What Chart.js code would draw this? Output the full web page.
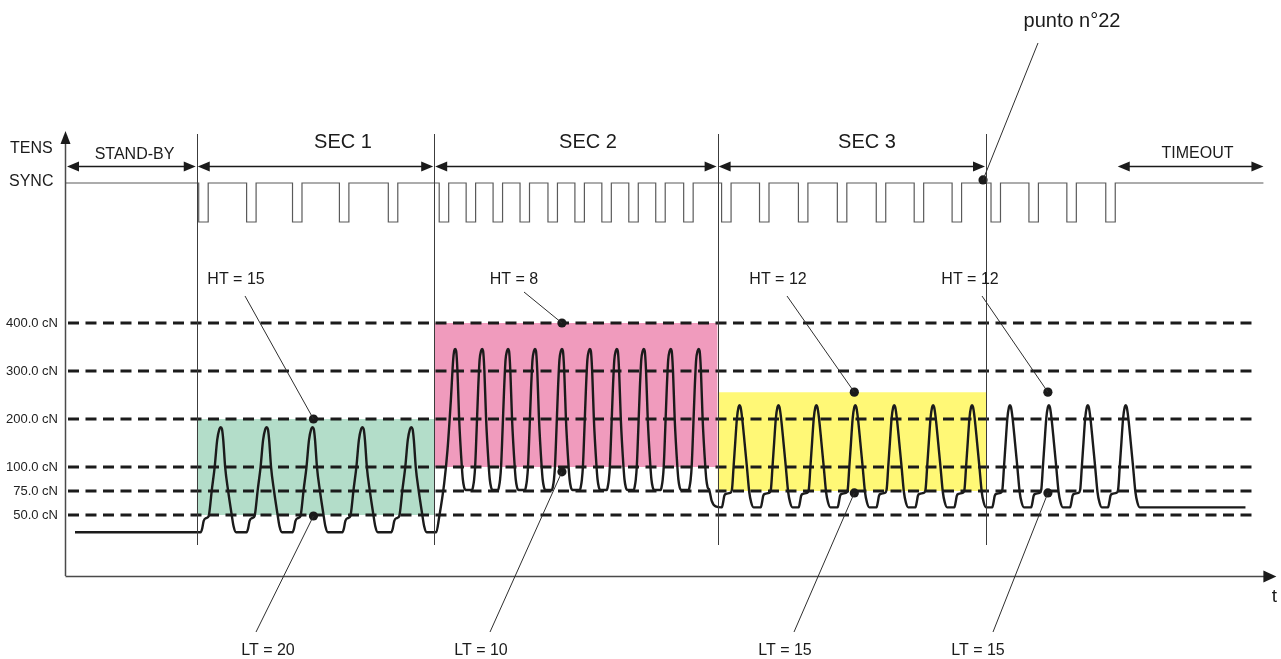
<!DOCTYPE html>
<html>
<head>
<meta charset="utf-8">
<script src="https://cdn.jsdelivr.net/npm/chart.js@4.4.1/dist/chart.umd.min.js"></script>
<style>
  html, body { margin: 0; padding: 0; background: #fff; overflow: hidden; }
  canvas { display: block; }
</style>
</head>
<body>
<canvas id="c" width="1281" height="659"></canvas>
<script>
// ---- tension axis (cN) ----
const TICK_VALUES = [50, 75, 100, 200, 300, 400];
const TICK_LABELS = ['50.0 cN', '75.0 cN', '100.0 cN', '200.0 cN', '300.0 cN', '400.0 cN'];

// ---- time sections ----
const SECTION_NAMES = ['STAND-BY', 'SEC 1', 'SEC 2', 'SEC 3'];
const SECTION_BOUNDS = [0, 131, 369, 653, 922];
const TIMEOUT_NAME = 'TIMEOUT';
const TIMEOUT_SPAN = [1054, 1200];

// ---- SYNC pulse train ----
const SYNC_END = 1200;
const SYNC_PULSE_STARTS = [133, 181, 227, 274, 323,
  374, 401, 428, 455, 483, 510, 537, 564, 591, 619,
  657, 695, 734, 773, 812, 850, 888,
  927, 965, 1003, 1042];
const SYNC_PULSE_WIDTH = 9.5;

// ---- tension trace: flat runs, per-section peak times and one cycle shape [dt, cN] ----
const STANDBY_TRACE = [[9, 32], [131, 32]];
const SEC1_PEAKS = [155, 201, 247, 297, 346];
const SEC1_SHAPE = [[-20, 32], [-18.5, 36], [-17, 44], [-14, 47], [-12, 49], [-10.5, 60], [-9, 75], [-6, 100],
  [-3.5, 156], [-1.3, 179], [0, 183], [1.3, 179], [2.6, 156], [4.5, 100], [7.5, 75], [10.8, 52], [13, 38], [15.5, 32]];
const SEC1_TO_SEC2 = [[363, 32], [371, 32], [374, 48], [379, 83], [382.3, 135], [385.7, 240], [388, 323]];
const SEC2_PEAKS = [390, 417, 443, 470, 497, 525, 552, 579, 606, 634];
const SEC2_SHAPE = [[-10, 76], [-9, 80], [-8, 87], [-7, 100], [-5.5, 177], [-4, 260], [-2.5, 323], [-1, 342],
  [0, 346], [1, 342], [2.3, 300], [4, 200], [6.7, 100], [7.7, 87], [9, 79], [10.7, 76]];
const SEC2_TO_SEC3 = [[647, 65], [651, 59]];
const SEC3_PEAKS = [675, 714, 752, 791, 830, 869, 908, 946, 985, 1024, 1062];
const SEC3_SHAPE = [[-17.7, 58], [-16.5, 63], [-15.3, 70], [-13.5, 72], [-9.5, 73], [-7.7, 76], [-6, 100],
  [-4.3, 152], [-2.6, 202], [-1, 225], [0, 229], [1, 225], [2.6, 202], [5, 152], [7.4, 100], [9.7, 74], [11.7, 63], [14, 58]];
const TIMEOUT_TRACE = [[1182, 58]];

// ---- tolerance windows per section ----
const BAND_START = [131, 369, 653];
const BAND_END = [369, 653, 922];
const BAND_LOW = [50, 100, 75];
const BAND_HIGH = [200, 400, 256];

// ---- HT / LT markers ----
const MARK_TIMES = [248, 497, 790, 984];
const HT_VALUES = [200, 400, 256, 256];
const LT_VALUES = [49, 95, 73, 73];
const HT_LABELS = ['HT = 15', 'HT = 8', 'HT = 12', 'HT = 12'];
const LT_LABELS = ['LT = 20', 'LT = 10', 'LT = 15', 'LT = 15'];

// ---- SYNC point note ----
const NOTE_LABEL = 'punto n°22';
const NOTE_TIME = 919;
const NOTE_SYNC = 1.08;

// ------------------------------------------------------------------
const FONT = "'Liberation Sans', Arial, sans-serif";
const INK = '#1b1b1b';

// tension axis: 25 cN per step below 100 cN, 50 cN per step above
function toLevel(v) { return v <= 100 ? (v - 50) / 25 : 2 + (v - 100) / 50; }
function fromLevel(l) { return l <= 2 ? 50 + 25 * l : 100 + 50 * (l - 2); }

class PiecewiseScale extends Chart.LinearScale {
  getPixelForValue(value) {
    const a = toLevel(this.min), b = toLevel(this.max);
    return this.getPixelForDecimal((toLevel(value) - a) / (b - a));
  }
  getValueForPixel(pixel) {
    const a = toLevel(this.min), b = toLevel(this.max);
    return fromLevel(a + this.getDecimalForPixel(pixel) * (b - a));
  }
}
PiecewiseScale.id = 'piecewise';
PiecewiseScale.defaults = Chart.LinearScale.defaults;
Chart.register(PiecewiseScale);

function repeatShape(peaks, shape) {
  return peaks.flatMap(p => shape.map(([dt, v]) => [p + dt, v]));
}
function joinTrace(parts) {
  const pts = [];
  parts.forEach(part => part.forEach(([t, v]) => {
    if (!pts.length || t > pts[pts.length - 1].x) pts.push({ x: t, y: v });
  }));
  return pts;
}

const tensionTrace = joinTrace([
  STANDBY_TRACE,
  repeatShape(SEC1_PEAKS, SEC1_SHAPE),
  SEC1_TO_SEC2,
  repeatShape(SEC2_PEAKS, SEC2_SHAPE),
  SEC2_TO_SEC3,
  repeatShape(SEC3_PEAKS, SEC3_SHAPE),
  TIMEOUT_TRACE
]);

const syncTrace = [{ x: 0, y: 1 }];
SYNC_PULSE_STARTS.forEach(s => {
  syncTrace.push({ x: s, y: 1 }, { x: s, y: 0 }, { x: s + SYNC_PULSE_WIDTH, y: 0 }, { x: s + SYNC_PULSE_WIDTH, y: 1 });
});
syncTrace.push({ x: SYNC_END, y: 1 });

const BAND_COLORS = ['rgb(179,221,201)', 'rgb(240,155,189)', 'rgb(255,248,118)'];

const datasets = [];
BAND_START.forEach((t0, i) => {
  datasets.push({
    data: [{ x: t0, y: BAND_HIGH[i] }, { x: BAND_END[i], y: BAND_HIGH[i] }],
    borderColor: 'transparent', borderWidth: 0, pointRadius: 0,
    backgroundColor: BAND_COLORS[i], fill: { value: BAND_LOW[i] }, order: 5
  });
});
TICK_VALUES.forEach(v => {
  datasets.push({
    data: [{ x: 2, y: v }, { x: 1189, y: v }],
    borderColor: INK, borderWidth: 3, borderDash: [11, 6.5], pointRadius: 0, fill: false, order: 4
  });
});
datasets.push({
  data: syncTrace, yAxisID: 'ys', borderColor: '#5a5a5a', borderWidth: 1.2,
  pointRadius: 0, fill: false, order: 3
});
datasets.push({
  data: tensionTrace, borderColor: INK, borderWidth: 2.4, cubicInterpolationMode: 'monotone',
  pointRadius: 0, fill: false, order: 2
});
datasets.push({
  data: MARK_TIMES.map((t, i) => ({ x: t, y: HT_VALUES[i] })).concat(MARK_TIMES.map((t, i) => ({ x: t, y: LT_VALUES[i] }))),
  showLine: false, pointRadius: 4.6, pointBackgroundColor: INK, pointBorderWidth: 0, order: 1
});
datasets.push({
  data: [{ x: NOTE_TIME, y: NOTE_SYNC }], yAxisID: 'ys',
  showLine: false, pointRadius: 4.6, pointBackgroundColor: INK, pointBorderWidth: 0, order: 0, clip: false
});

// layout of the decorations drawn around the plot
const SECTION_TEXT = [
  { x: 134.5, y: 155, size: 16 }, { x: 343, y: 142, size: 20 },
  { x: 588, y: 142, size: 20 }, { x: 867, y: 142, size: 20 }
];
const TIMEOUT_TEXT = { x: 1197.5, y: 154, size: 16 };
const HT_TEXT = [{ x: 236, y: 280 }, { x: 514, y: 280 }, { x: 778, y: 280 }, { x: 970, y: 280 }];
const HT_LEAD = [[245, 296], [524, 292], [787, 296], [982, 296]];
const LT_TEXT = [{ x: 268, y: 651 }, { x: 481, y: 651 }, { x: 785, y: 651 }, { x: 978, y: 651 }];
const LT_LEAD = [[256, 632], [490, 632], [794, 632], [993, 632]];

function seg(ctx, x1, y1, x2, y2) { ctx.beginPath(); ctx.moveTo(x1, y1); ctx.lineTo(x2, y2); ctx.stroke(); }
function head(ctx, tx, ty, dir, len, half) {
  ctx.beginPath();
  if (dir === 'left' || dir === 'right') {
    const s = dir === 'left' ? 1 : -1;
    ctx.moveTo(tx, ty); ctx.lineTo(tx + s * len, ty - half); ctx.lineTo(tx + s * len, ty + half);
  } else {
    ctx.moveTo(tx, ty); ctx.lineTo(tx - half, ty + len); ctx.lineTo(tx + half, ty + len);
  }
  ctx.closePath(); ctx.fill();
}
function dblArrow(ctx, x1, x2, y) {
  seg(ctx, x1 + 4, y, x2 - 4, y);
  head(ctx, x1, y, 'left', 12, 5);
  head(ctx, x2, y, 'right', 12, 5);
}
function text(ctx, s, x, y, size, align) {
  ctx.font = size + 'px ' + FONT;
  ctx.textAlign = align || 'center';
  ctx.textBaseline = 'middle';
  ctx.fillText(s, x, y);
}

const decor = {
  id: 'decor',
  afterDatasetsDraw(chart) {
    const { ctx, chartArea: a } = chart;
    const xs = chart.scales.x, ys = chart.scales.y, ss = chart.scales.ys;
    ctx.save();

    // section dividers
    ctx.strokeStyle = '#3c3c3c'; ctx.lineWidth = 1;
    SECTION_BOUNDS.slice(1).forEach(t => {
      const px = Math.round(xs.getPixelForValue(t)) + 0.5;
      seg(ctx, px, 134, px, 545);
    });

    // axes with arrow heads
    ctx.strokeStyle = '#4a4a4a'; ctx.fillStyle = INK; ctx.lineWidth = 1.5;
    seg(ctx, a.left - 0.5, a.bottom, a.left - 0.5, 142);
    head(ctx, a.left - 0.5, 131, 'up', 13, 5);
    seg(ctx, a.left - 0.5, a.bottom + 0.5, a.right - 12, a.bottom + 0.5);
    head(ctx, a.right, a.bottom + 0.5, 'right', 13, 6);

    // section spans
    ctx.strokeStyle = INK; ctx.lineWidth = 1.3;
    for (let i = 0; i < SECTION_NAMES.length; i++) {
      const x1 = i === 0 ? a.left : xs.getPixelForValue(SECTION_BOUNDS[i]);
      const x2 = xs.getPixelForValue(SECTION_BOUNDS[i + 1]);
      dblArrow(ctx, x1 + 1, x2 - 1, 166.5);
      const st = SECTION_TEXT[i];
      text(ctx, SECTION_NAMES[i], st.x, st.y, st.size);
    }
    dblArrow(ctx, xs.getPixelForValue(TIMEOUT_SPAN[0]), xs.getPixelForValue(TIMEOUT_SPAN[1]), 166.5);
    text(ctx, TIMEOUT_NAME, TIMEOUT_TEXT.x, TIMEOUT_TEXT.y, TIMEOUT_TEXT.size);

    // axis captions
    text(ctx, 'TENS', 10, 149, 16, 'left');
    text(ctx, 'SYNC', 9, 182, 16, 'left');
    text(ctx, 't', 1274.5, 597, 19);

    // HT / LT notes with leaders
    ctx.strokeStyle = '#2e2e2e'; ctx.lineWidth = 1;
    MARK_TIMES.forEach((t, i) => {
      const px = xs.getPixelForValue(t);
      seg(ctx, HT_LEAD[i][0], HT_LEAD[i][1], px, ys.getPixelForValue(HT_VALUES[i]));
      seg(ctx, px, ys.getPixelForValue(LT_VALUES[i]), LT_LEAD[i][0], LT_LEAD[i][1]);
      text(ctx, HT_LABELS[i], HT_TEXT[i].x, HT_TEXT[i].y, 16);
      text(ctx, LT_LABELS[i], LT_TEXT[i].x, LT_TEXT[i].y, 16);
    });

    // SYNC point note
    seg(ctx, 1038, 43, xs.getPixelForValue(NOTE_TIME), ss.getPixelForValue(NOTE_SYNC));
    text(ctx, NOTE_LABEL, 1072, 21, 20);

    ctx.restore();
  }
};

new Chart(document.getElementById('c'), {
  type: 'line',
  data: { datasets },
  options: {
    responsive: false,
    animation: false,
    layout: { padding: { top: 130, bottom: 83, left: 0, right: 2 } },
    plugins: { legend: { display: false }, tooltip: { enabled: false } },
    scales: {
      x: { type: 'linear', display: false, min: 0, max: 1213 },
      y: {
        type: 'piecewise', min: -13.5, max: 802,
        afterFit: s => { s.width = 66; },
        afterBuildTicks: s => { s.ticks = TICK_VALUES.map(v => ({ value: v })); },
        grid: { display: false, drawTicks: false }, border: { display: false },
        ticks: {
          autoSkip: false, padding: 8, color: '#222',
          font: { family: FONT, size: 13 },
          callback: (v, i) => TICK_LABELS[i]
        }
      },
      ys: { type: 'linear', display: false, min: -9.077, max: 2.359 }
    }
  },
  plugins: [decor]
});
</script>
</body>
</html>
